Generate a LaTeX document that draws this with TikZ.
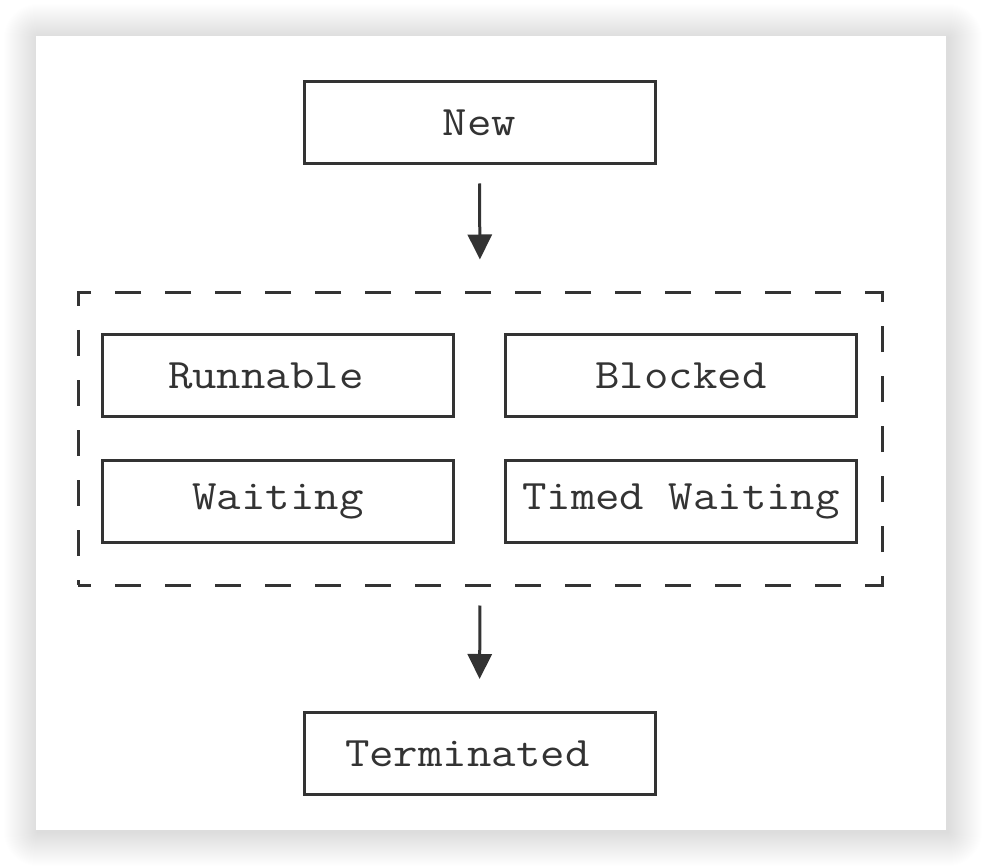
\documentclass[tikz,border=0pt]{standalone}
\usepackage{fontspec}
\newfontfamily\boxfont[FakeStretch=1.13]{Latin Modern Mono}
\usetikzlibrary{arrows.meta}
\definecolor{ink}{HTML}{333333}
\begin{document}
\begin{tikzpicture}[x=1pt,y=-1pt,
  box/.style={draw=ink, line width=3pt, rectangle, minimum width=351pt, minimum height=82pt, inner sep=0pt, text=ink, font=\boxfont\fontsize{42}{50}\selectfont},
  grp/.style={draw=ink, line width=3pt, rectangle, dash pattern=on 26pt off 24pt, dash phase=13pt, minimum width=804pt, minimum height=292pt, inner sep=0pt},
  flow/.style={draw=ink, line width=3pt, -{Triangle[width=24pt,length=25pt]}}]
\useasboundingbox (0,0) rectangle (982,866);
\foreach \i in {1,...,34}{
  \fill[black, fill opacity=0.0045, rounded corners=\i pt] (36-\i+2,36-\i+2) rectangle (946+\i+2,830+\i+2);
}
\fill[white] (36,36) rectangle (946,830);
\node[box] (new) at (479.5,123) {New};
\node[grp] (group) at (480,439) {};
\node[box] (run) at (278,375.5) {Runnable\hphantom{x}};
\node[box] (blk) at (681,375.5) {Blocked};
\node[box] (wait) at (278,501.5) {Waiting};
\node[box] (tw) at (681,501.5) {Timed Waiting};
\node[box] (term) at (479.5,753.5) {Terminated\hphantom{x}};
\draw[flow, shorten <=18pt, shorten >=32pt] (new.south) -- (group.north);
\draw[flow, shorten <=19pt, shorten >=32pt] (group.south) -- (term.north);
\end{tikzpicture}
\end{document}
